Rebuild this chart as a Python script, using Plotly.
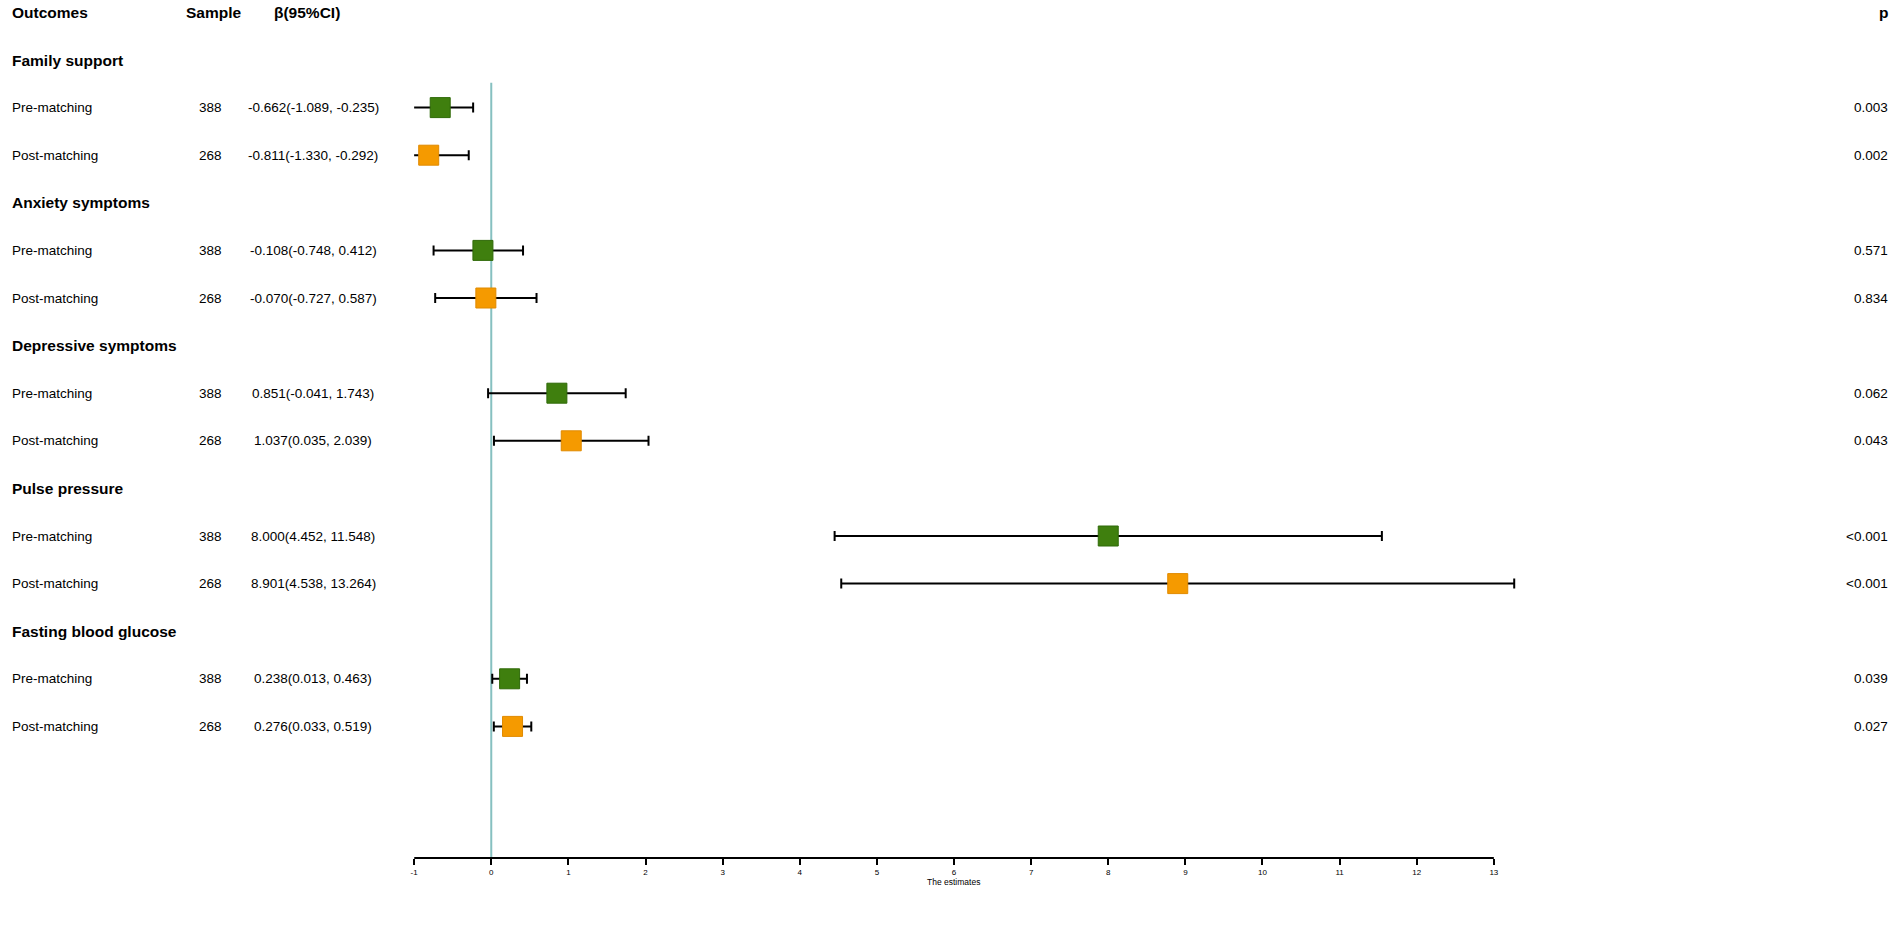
import plotly.graph_objects as go

# data
outcomes = ["Family support", "Anxiety symptoms", "Depressive symptoms",
            "Pulse pressure", "Fasting blood glucose"]
pre_n = [388, 388, 388, 388, 388]
post_n = [268, 268, 268, 268, 268]
pre_beta = [-0.662, -0.108, 0.851, 8.000, 0.238]
pre_lo = [-1.089, -0.748, -0.041, 4.452, 0.013]
pre_hi = [-0.235, 0.412, 1.743, 11.548, 0.463]
post_beta = [-0.811, -0.070, 1.037, 8.901, 0.276]
post_lo = [-1.330, -0.727, 0.035, 4.538, 0.033]
post_hi = [-0.292, 0.587, 2.039, 13.264, 0.519]
pre_p = ["0.003", "0.571", "0.062", "<0.001", "0.039"]
post_p = ["0.002", "0.834", "0.043", "<0.001", "0.027"]
x_ticks = list(range(-1, 14))

W, H = 1901, 948
FONT = "Liberation Sans, Arial, sans-serif"
GREEN = "#3f7f0e"
ORANGE = "#f59a00"

# row index -> each outcome takes 3 rows (header, pre, post)
head_rows = [3 * i for i in range(len(outcomes))]
pre_rows = [3 * i + 1 for i in range(len(outcomes))]
post_rows = [3 * i + 2 for i in range(len(outcomes))]

# pixel layout: row 0 at y=60px, 47.6px per row, axis line at 858px
row0, step, axis_px = 60.0, 47.6, 858.0
y_bottom = (axis_px - row0) / step
y_top = -row0 / step

# x axis: -1 at 411px, 13 at 1493px; range goes a bit past 13 so the
# last whisker (13.264) is not clipped
x_lo, x_hi = x_ticks[0], x_ticks[-1]
px_per_unit = (1493 - 411) / (x_hi - x_lo)
x_range_hi = 13.5
x_dom_right = 1493 + (x_range_hi - x_hi) * px_per_unit
axis_paper_y = (H - axis_px) / H


def fmt_ci(b, lo, hi):
    return "%.3f(%.3f, %.3f)" % (b, lo, hi)


fig = go.Figure()

fig.add_trace(go.Scatter(
    x=pre_beta, y=pre_rows, mode="markers", cliponaxis=False,
    marker=dict(symbol="square", size=20, color=GREEN, line=dict(color="#2f6a08", width=1)),
    error_x=dict(type="data", symmetric=False,
                 array=[h - b for h, b in zip(pre_hi, pre_beta)],
                 arrayminus=[b - l for l, b in zip(pre_lo, pre_beta)],
                 color="black", thickness=2, width=5),
    showlegend=False))

fig.add_trace(go.Scatter(
    x=post_beta, y=post_rows, mode="markers", cliponaxis=False,
    marker=dict(symbol="square", size=20, color=ORANGE, line=dict(color="#e08a00", width=1)),
    error_x=dict(type="data", symmetric=False,
                 array=[h - b for h, b in zip(post_hi, post_beta)],
                 arrayminus=[b - l for l, b in zip(post_lo, post_beta)],
                 color="black", thickness=2, width=5),
    showlegend=False))

# zero reference line
fig.add_shape(type="line", xref="x", yref="y", x0=0, x1=0, y0=0.48, y1=y_bottom,
              line=dict(color="#86c0c0", width=2), layer="below")
# axis line only between -1 and 13
fig.add_shape(type="line", xref="x", yref="paper", x0=x_lo, x1=x_hi,
              y0=axis_paper_y, y1=axis_paper_y, line=dict(color="black", width=2))

ann = []


def txt(xpx, row, s, anchor="left", bold=False, size=13.5):
    ann.append(dict(x=xpx / W, y=row, xref="paper", yref="y", text=("<b>%s</b>" % s) if bold else s,
                    showarrow=False, xanchor=anchor, yanchor="middle",
                    font=dict(family=FONT, size=size, color="black")))


# column headers
txt(6, -1, "Outcomes", bold=True, size=15.5)
txt(210, -1, "Sample", anchor="center", bold=True, size=15.5)
txt(304, -1, "β(95%CI)", anchor="center", bold=True, size=15.5)
txt(1890, -1, "p", anchor="right", bold=True, size=15.5)

for i, name in enumerate(outcomes):
    txt(6, head_rows[i], name, bold=True, size=15.5)
    txt(6, pre_rows[i], "Pre-matching")
    txt(6, post_rows[i], "Post-matching")
    txt(207, pre_rows[i], str(pre_n[i]), anchor="center")
    txt(207, post_rows[i], str(post_n[i]), anchor="center")
    txt(310, pre_rows[i], fmt_ci(pre_beta[i], pre_lo[i], pre_hi[i]), anchor="center")
    txt(310, post_rows[i], fmt_ci(post_beta[i], post_lo[i], post_hi[i]), anchor="center")
    txt(1890, pre_rows[i], pre_p[i], anchor="right")
    txt(1890, post_rows[i], post_p[i], anchor="right")

# axis title, centred under -1..13
ann.append(dict(x=(x_lo + x_hi) / 2, y=axis_paper_y - 24 / H, xref="x", yref="paper",
                text="The estimates", showarrow=False, xanchor="center", yanchor="middle",
                font=dict(family=FONT, size=8.5, color="black")))

fig.update_layout(
    width=W, height=H,
    margin=dict(l=0, r=0, t=0, b=0),
    plot_bgcolor="white", paper_bgcolor="white",
    annotations=ann,
    xaxis=dict(
        domain=[411 / W, x_dom_right / W],
        range=[x_lo, x_range_hi],
        tickmode="array", tickvals=x_ticks, ticktext=[str(t) for t in x_ticks],
        showline=False,
        ticks="outside", ticklen=6, tickwidth=2, tickcolor="black",
        showgrid=False, zeroline=False,
        tickfont=dict(family=FONT, size=8, color="black"),
    ),
    yaxis=dict(
        domain=[axis_paper_y, 1],
        range=[y_bottom, y_top],
        visible=False, showgrid=False, zeroline=False,
    ),
)

# drop the default 8px body margin so the 1901x948 figure fills the window
fig.write_html("out.html", config={"displayModeBar": False},
               post_script="document.body.style.margin='0';document.body.style.overflow='hidden';")
